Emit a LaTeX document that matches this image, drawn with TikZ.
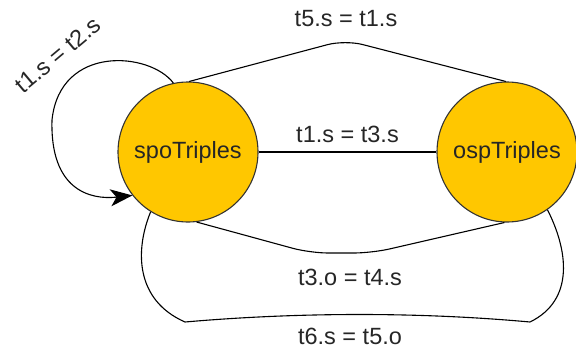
\documentclass[tikz,border=0pt]{standalone}
\usepackage{fontspec}
\setmainfont{Liberation Sans}
\usetikzlibrary{arrows.meta}
\definecolor{tableyellow}{RGB}{255,199,0}
\begin{document}
\begin{tikzpicture}[x=1pt, y=-1pt, line width=1.1pt,
  every node/.style={font=\fontsize{23.5}{27}\selectfont, text=black!85},
  table/.style={draw=black!80, fill=tableyellow, circle, minimum size=140pt, inner sep=0pt}]
\useasboundingbox (0,0) rectangle (576,348);
\node[table] (spo) at (188,152) {spoTriples};
\node[table] (osp) at (507,152) {ospTriples};
% joins between the two tables
\draw (spo) -- (osp) node[midway, above=5pt] {t1.s = t3.s};
\draw[rounded corners=18pt] (spo.89) -- (345,40) -- (osp.91);
\node (top) at (346,19) {t5.s = t1.s};
\draw[rounded corners=18pt] (spo.-83) -- (310,253) -- (372,253) -- (osp.-92);
\node (mid) at (350,277) {t3.o = t4.s};
\draw (spo.-122) .. controls (135,250) and (135,300) .. (185,322)
  .. controls (300,312) and (420,312) .. (530,322)
  .. controls (575,300) and (568,250) .. (osp.-55);
\node (bot) at (350,336) {t6.s = t5.o};
% self join
\draw[-{Stealth[length=22pt, width=17pt, inset=6pt]}] (spo.102) .. controls (150,52) and (60,44) .. (52,120)
  .. controls (50,190) and (90,200) .. (spo.-142);
\node[rotate=40] (self) at (58,55) {t1.s = t2.s};
\end{tikzpicture}
\end{document}
